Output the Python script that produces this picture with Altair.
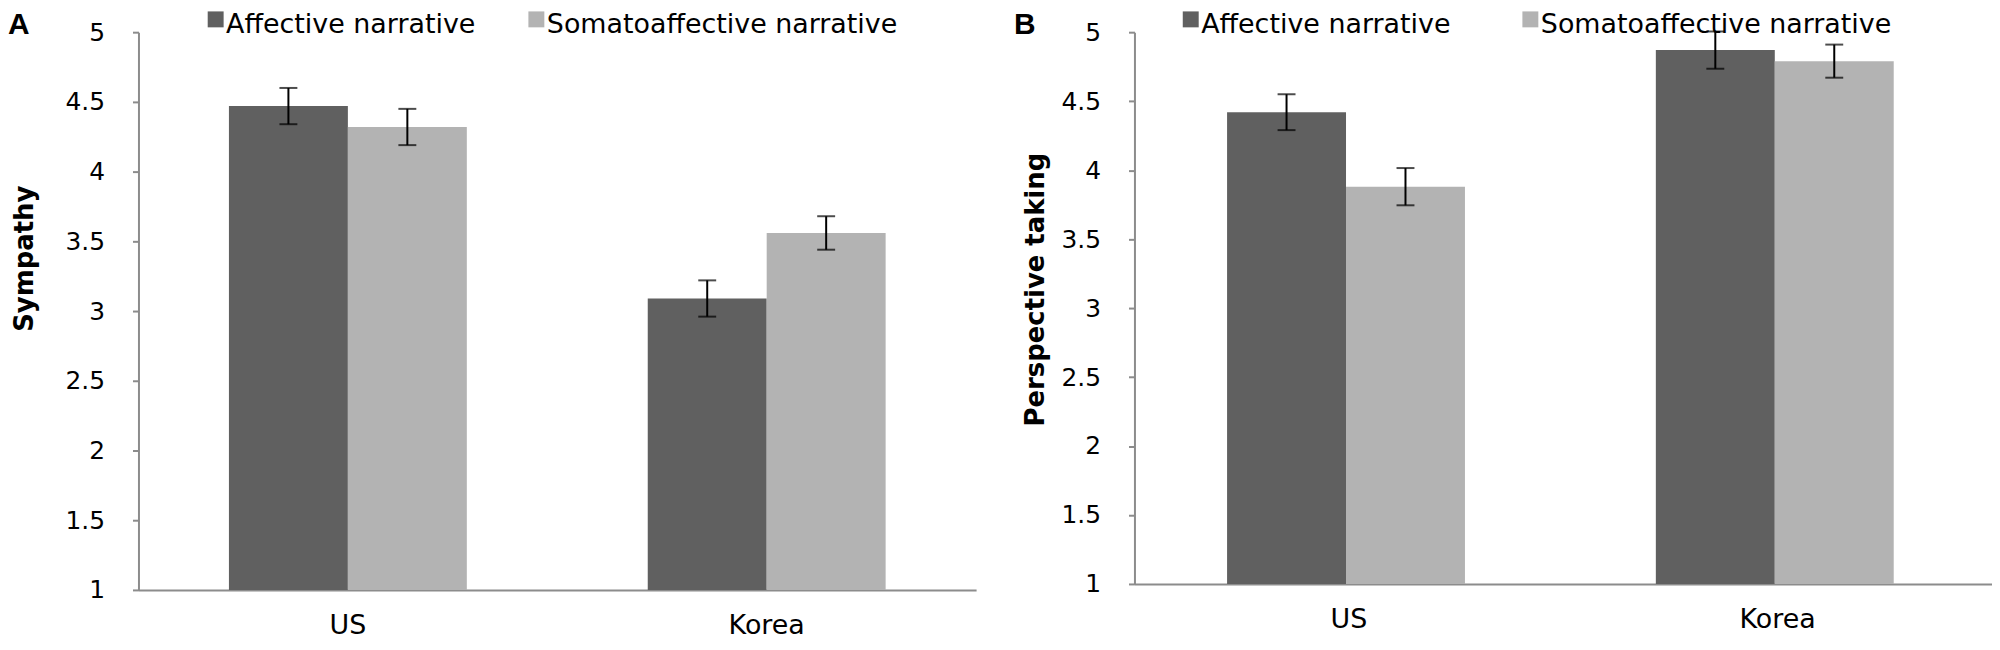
import altair as alt
import pandas as pd

countries = ["US", "Korea"]
conditions = ["Affective narrative", "Somatoaffective narrative"]
# order: US-Affective, US-Somato, Korea-Affective, Korea-Somato
sympathy_mean = [4.47, 4.32, 3.09, 3.56]
sympathy_se = [0.13, 0.13, 0.13, 0.12]
perspective_mean = [4.42, 3.88, 4.87, 4.79]
perspective_se = [0.13, 0.135, 0.135, 0.12]
y_ticks = [1, 1.5, 2, 2.5, 3, 3.5, 4, 4.5, 5]
bar_colors = ["#606060", "#b3b3b3"]
axis_gray = "#8c8c8c"


def make_df(means, ses):
    rows = []
    i = 0
    for c in countries:
        for k in conditions:
            rows.append({"country": c, "condition": k, "mean": means[i],
                         "lo": means[i] - ses[i], "hi": means[i] + ses[i]})
            i += 1
    return pd.DataFrame(rows)


def panel(df, ytitle, letter, w, h, title_x, title_y, legend_x, legend_y,
          col_pad, letter_dx, letter_dy):
    x = alt.X("country:N", sort=countries,
              scale=alt.Scale(paddingInner=0.432, paddingOuter=0.216),
              axis=alt.Axis(title=None, labelAngle=0, ticks=False, tickSize=0,
                            domainColor=axis_gray, domainWidth=2,
                            labelFont="DejaVu Sans", labelFontSize=27,
                            labelColor="black", labelPadding=23,
                            labelBaseline="top"))
    xo = alt.XOffset("condition:N", sort=conditions,
                     scale=alt.Scale(paddingInner=0, paddingOuter=0))
    yscale = alt.Scale(domain=[1, 5], nice=False, zero=False)
    y = alt.Y("mean:Q", scale=yscale,
              axis=alt.Axis(title=ytitle, values=y_ticks, format="~g",
                            grid=False, domainColor=axis_gray, domainWidth=2,
                            tickColor=axis_gray, tickWidth=2, tickSize=6,
                            labelFont="DejaVu Sans", labelFontSize=25,
                            labelColor="black", labelPadding=28,
                            titleFont="DejaVu Sans", titleFontWeight="bold",
                            titleFontSize=26, titleColor="black",
                            titleX=title_x, titleY=title_y,
                            titleBaseline="alphabetic", titleAlign="center"))
    color = alt.Color("condition:N", sort=conditions,
                      scale=alt.Scale(domain=conditions, range=bar_colors),
                      legend=alt.Legend(orient="none", legendX=legend_x,
                                        legendY=legend_y,
                                        direction="horizontal", title=None,
                                        symbolType="M-0.625,-1.7H1.375V0.3H-0.625Z",
                                        symbolSize=256, symbolStrokeWidth=0,
                                        symbolOpacity=1,
                                        labelFont="DejaVu Sans",
                                        labelFontSize=27, labelColor="black",
                                        labelOffset=0, columnPadding=col_pad,
                                        padding=0, labelLimit=0))
    base = alt.Chart(df)
    bars = base.mark_bar(opacity=1).encode(x=x, xOffset=xo, y=y,
                                           y2=alt.datum(1), color=color)
    rules = base.mark_rule(color="black", strokeWidth=2).encode(
        x=x, xOffset=xo, y=alt.Y("lo:Q", scale=yscale), y2="hi:Q")
    cap_lo = base.mark_tick(color="black", thickness=2, size=18).encode(
        x=x, xOffset=xo, y=alt.Y("lo:Q", scale=yscale))
    cap_hi = base.mark_tick(color="black", thickness=2, size=18).encode(
        x=x, xOffset=xo, y=alt.Y("hi:Q", scale=yscale))
    return alt.layer(bars, rules, cap_lo, cap_hi).properties(
        width=w, height=h,
        title=alt.TitleParams(text=letter, anchor="start", frame="group",
                              orient="top", font="Liberation Sans",
                              fontSize=30, fontWeight="bold", color="black",
                              dx=letter_dx, dy=letter_dy, offset=0,
                              baseline="alphabetic"))


left = panel(make_df(sympathy_mean, sympathy_se), "Sympathy", "A",
             841, 560, -106, 227, 61, -21, 44, -131, 53)
right = panel(make_df(perspective_mean, perspective_se), "Perspective taking",
              "B", 861, 554, -91, 258, 40, -21, 63, -121, 53)

chart = alt.hconcat(left, right, spacing=38).resolve_scale(
    color="independent").resolve_legend(color="independent").properties(
    padding={"left": 0, "top": 1, "right": 0, "bottom": 0}
).configure_view(stroke=None)

chart.save("out.html", embed_options={"renderer": "svg", "actions": False})
